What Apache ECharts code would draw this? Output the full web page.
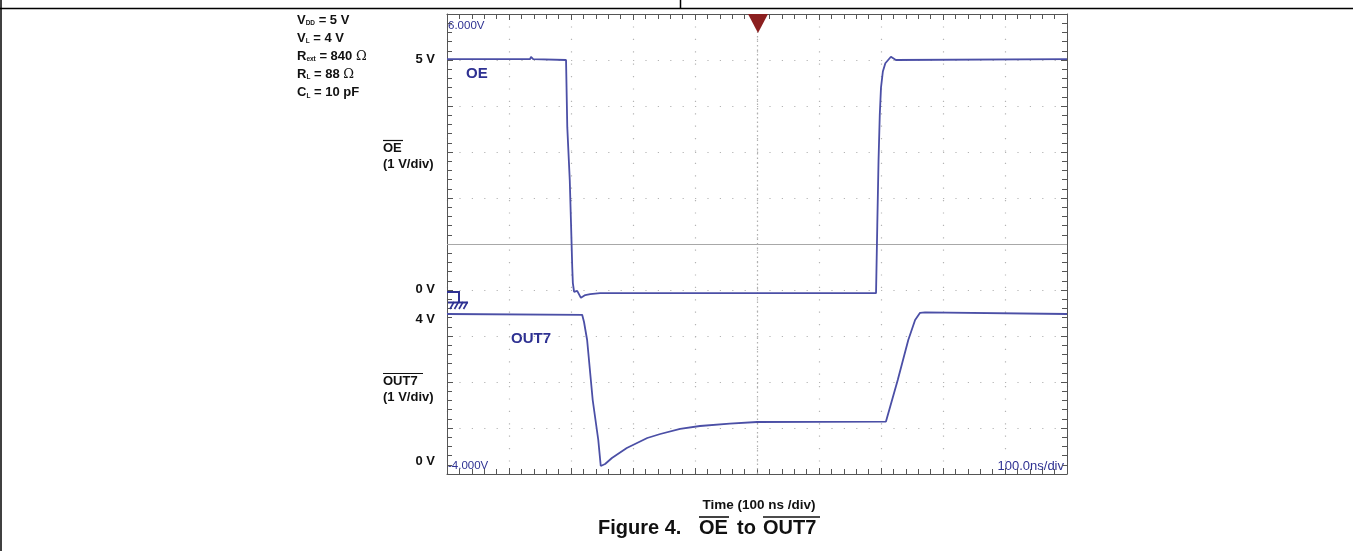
<!DOCTYPE html>
<html>
<head>
<meta charset="utf-8">
<script src="https://cdn.jsdelivr.net/npm/echarts@6/dist/echarts.min.js"></script>
<style>
html,body{margin:0;padding:0;background:#fff;}
#chart{width:1353px;height:551px;}
</style>
</head>
<body>
<div id="chart"></div>
<script>
// Time in ns (0 = left edge of screen, 100 ns/div)
var oeTime  = [0, 134, 135.5, 139, 192, 194, 198, 200, 202, 203, 205, 210, 216, 223, 231, 247, 692, 694, 696, 698, 700, 703, 707, 716, 724, 1000];
var oeVolt  = [5.02, 5.02, 5.07, 5.02, 5.0, 3.54, 2.39, 1.46, 0.50, 0.15, -0.04, -0.02, -0.17, -0.11, -0.09, -0.07, -0.07, 1.4, 2.8, 3.8, 4.4, 4.75, 4.93, 5.07, 5.0, 5.02];
var outTime = [0, 218, 221, 226, 235, 244, 248, 255, 266, 290, 323, 344, 376, 408, 456, 500, 708, 727, 744, 755, 763, 771, 1000];
var outVolt = [4.0, 3.98, 3.8, 3.35, 1.85, 0.85, 0.2, 0.25, 0.4, 0.65, 0.9, 1.0, 1.13, 1.2, 1.26, 1.3, 1.31, 2.35, 3.35, 3.85, 4.03, 4.04, 4.0];
var conditions = [['V','DD',' = 5 V'],['V','L',' = 4 V'],['R','ext',' = 840 ','Ω'],['R','L',' = 88 ','Ω'],['C','L',' = 10 pF']];

function pairs(t, v){ var r=[]; for(var i=0;i<t.length;i++) r.push([t[i], v[i]]); return r; }

var FONT = '"Liberation Sans", Arial, Helvetica, sans-serif';
var TRACE = '#4b4fa6';
var BLUE = '#2e3192';
var FRAME = '#555';

function axisBase(pos, extra){
  var a = {
    position: pos, axisLabel:{show:false},
    axisLine:{show:true, onZero:false, lineStyle:{color:FRAME, width:1}},
    axisTick:{show:true, inside:true, length:6, lineStyle:{color:FRAME}},
    minorTick:{show:true, splitNumber:5, length:5, lineStyle:{color:FRAME}},
    splitLine:{show:false}
  };
  for (var k in extra) a[k]=extra[k];
  return a;
}

var chart = echarts.init(document.getElementById('chart'));

var graphics = [];
// page frame
graphics.push({type:'line', shape:{x1:0,y1:8.5,x2:1353,y2:8.5}, style:{stroke:'#000', lineWidth:1.5}});
graphics.push({type:'line', shape:{x1:680.5,y1:0,x2:680.5,y2:8.5}, style:{stroke:'#000', lineWidth:1.5}});
graphics.push({type:'line', shape:{x1:1,y1:0,x2:1,y2:551}, style:{stroke:'#000', lineWidth:1.5}});

// condition labels
conditions.forEach(function(c, i){
  var txt = '{b|'+c[0]+'}{s|'+c[1]+'}{b|'+c[2]+'}' + (c[3] ? '{o|'+c[3]+'}' : '');
  graphics.push({type:'text', x:297, y:19 + i*18.2, style:{
    text: txt, verticalAlign:'middle', align:'left',
    rich:{
      b:{fontFamily:FONT, fontSize:13, fontWeight:'bold', fill:'#111', lineHeight:15, verticalAlign:'bottom'},
      s:{fontFamily:FONT, fontSize:6.5, fontWeight:'bold', fill:'#111', lineHeight:14, verticalAlign:'bottom'},
      o:{fontFamily:'"DejaVu Serif","Liberation Serif",serif', fontSize:13, fill:'#111', lineHeight:15, verticalAlign:'bottom'}
    }
  }});
});

function lbl(text, x, y, align, size, color, weight){
  graphics.push({type:'text', x:x, y:y, style:{text:text, fontFamily:FONT, fontSize:size||13, fontWeight:weight||'bold', fill:color||'#111', align:align||'left', verticalAlign:'middle'}});
}
function oline(x1, x2, y, w){
  graphics.push({type:'line', shape:{x1:x1,y1:y,x2:x2,y2:y}, style:{stroke:'#111', lineWidth:w||1.2}});
}
lbl('5 V', 435, 59, 'right');
lbl('OE', 383, 148, 'left'); oline(383, 403, 140.5);
lbl('(1 V/div)', 383, 164, 'left');
lbl('0 V', 435, 289, 'right');
lbl('4 V', 435, 319, 'right');
lbl('OUT7', 383, 381, 'left'); oline(383, 423, 373.5);
lbl('(1 V/div)', 383, 397, 'left');
lbl('0 V', 435, 461, 'right');

// scope annotations
lbl('6.000V', 448, 26, 'left', 11.5, BLUE, 'normal');
lbl('-4.000V', 448, 466, 'left', 11.5, BLUE, 'normal');
lbl('100.0ns/div', 1064, 466, 'right', 13, BLUE, 'normal');
lbl('OE', 466, 74, 'left', 15, BLUE, 'bold');
lbl('OUT7', 511, 339, 'left', 15, BLUE, 'bold');

// trigger marker
graphics.push({type:'polygon', shape:{points:[[748,14],[768,14],[758,33]]}, style:{fill:'#8b1f1f'}, z:10});

// ground symbol
graphics.push({type:'polyline', shape:{points:[[447,292],[459,292],[459,302]]}, style:{stroke:BLUE, lineWidth:2, fill:null}, z:10});
graphics.push({type:'line', shape:{x1:448,y1:302.5,x2:468,y2:302.5}, style:{stroke:BLUE, lineWidth:2}, z:10});
for (var i=0;i<4;i++){
  graphics.push({type:'line', shape:{x1:454+i*4.5,y1:302,x2:450+i*4.5,y2:309}, style:{stroke:BLUE, lineWidth:1.6}, z:10});
}

// bottom titles
lbl('Time (100 ns /div)', 759, 505, 'center', 13.5);
var F = 20;
lbl('Figure 4.', 598, 528, 'left', F);
lbl('OE', 699, 528, 'left', F); oline(699, 729, 517, 1.6);
lbl('to', 737, 528, 'left', F);
lbl('OUT7', 763, 528, 'left', F); oline(763, 820, 517, 1.6);

var option = {
  animation: false,
  backgroundColor: '#fff',
  grid: {left:447, top:14, width:620, height:460, show:false},
  xAxis: [
    axisBase('bottom', {type:'value', min:0, max:1000, interval:100,
      splitLine:{show:true, lineStyle:{color:'#b4b4b4', width:1.2, type:[1.2, 11.2]}}}),
    axisBase('top', {type:'value', min:0, max:1000, interval:100})
  ],
  yAxis: [
    axisBase('left', {type:'value', min:-4, max:6, interval:1,
      splitLine:{show:true, lineStyle:{color:'#b4b4b4', width:1.2, type:[1.2, 11.2]}}}),
    axisBase('right', {type:'value', min:0, max:11.5, interval:1.15})
  ],
  series: [
    {type:'line', name:'OE', xAxisIndex:0, yAxisIndex:0, data:pairs(oeTime, oeVolt),
      showSymbol:false, lineStyle:{color:TRACE, width:1.8}, z:5,
      markLine:{silent:true, symbol:'none', label:{show:false},
        data:[
          {yAxis:1, lineStyle:{color:'#a8a8a8', width:1, type:'solid'}},
          {xAxis:500, lineStyle:{color:'#b0b0b0', width:1.2, type:[1.5,3]}}
        ]}},
    {type:'line', name:'OUT7', xAxisIndex:0, yAxisIndex:1, data:pairs(outTime, outVolt),
      showSymbol:false, lineStyle:{color:TRACE, width:1.8}, z:5}
  ],
  graphic: graphics
};
chart.setOption(option);
</script>
</body>
</html>
